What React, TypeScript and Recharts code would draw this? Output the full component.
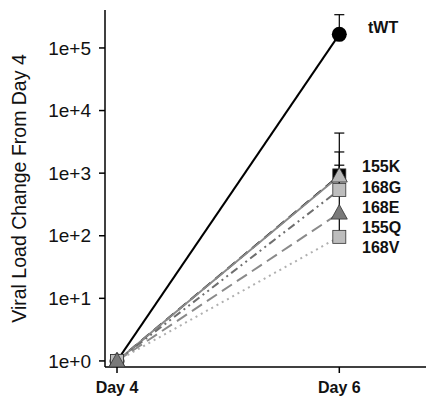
import { ComposedChart, Line, Scatter, XAxis, YAxis, ErrorBar, Label } from "recharts";

// x positions (days) and their tick text
const days = [4, 6];
const dayLabels = ["Day 4", "Day 6"];

// fold change from day 4, per virus
const tWT = [1, 165000];
const k155 = [1, 920];
const q155 = [1, 900];
const g168 = [1, 540];
const e168 = [1, 230];
const v168 = [1, 96];

// error bar ends (absolute values) at day 6
const tWTUp = [null, 340000];
const k155Up = [null, 4370];
const g168Up = [null, 2180];
const e168Up = [null, 1340];
const e168Low = [null, 96];

const yTicks = [1, 10, 100, 1000, 10000, 100000];
const sideLabels = ["155K", "168G", "168E", "155Q", "168V"];

const err = (v: number, up: number | null, low: number | null = null) =>
  up == null ? undefined : [low == null ? 0 : v - low, up - v];

const data = days.map((d, i) => ({
  day: d,
  tWT: tWT[i],
  k155: k155[i],
  q155: q155[i],
  g168: g168[i],
  e168: e168[i],
  v168: v168[i],
  tWTErr: err(tWT[i], tWTUp[i]),
  k155Err: err(k155[i], k155Up[i]),
  g168Err: err(g168[i], g168Up[i]),
  e168Err: err(e168[i], e168Up[i], e168Low[i]),
}));

// caps at the top of each error bar
const caps = [tWTUp, k155Up, g168Up, e168Up].flatMap((arr) =>
  arr.map((u, i) => (u == null ? null : { day: days[i], up: u })).filter(Boolean)
);

const square = (fill: string) => (p: any) =>
  p.cx == null ? null : (
    <rect key={p.key} x={p.cx - 6.5} y={p.cy - 6.5} width={13} height={13} fill={fill} stroke="#333" strokeWidth={0.8} />
  );
const triangle = (fill: string) => (p: any) =>
  p.cx == null ? null : (
    <polygon
      key={p.key}
      points={`${p.cx},${p.cy - 8.5} ${p.cx - 8},${p.cy + 6} ${p.cx + 8},${p.cy + 6}`}
      fill={fill}
      stroke="#333"
      strokeWidth={0.8}
    />
  );
const circle = (p: any) =>
  p.cx == null ? null : <circle key={p.key} cx={p.cx} cy={p.cy} r={7.5} fill="#000" />;
const cap = (p: any) => (
  <line x1={p.cx - 5} x2={p.cx + 5} y1={p.cy} y2={p.cy} stroke="#000" strokeWidth={1.2} />
);

const labelStyle = {
  position: "absolute" as const,
  left: 362,
  fontFamily: "Liberation Sans, Arial, sans-serif",
  fontWeight: 700,
  fontSize: 16,
  lineHeight: "16px",
  color: "#111",
};
const labelTops = [167, 188, 208, 228, 248];

export default function App() {
  return (
    <div style={{ position: "absolute", left: 0, top: 0, width: 426, height: 397, overflow: "hidden", background: "#fff" }}>
      <ComposedChart
        width={426}
        height={397}
        data={data}
        margin={{ top: 10, right: 0, left: 0, bottom: 0 }}
        style={{ fontFamily: "Liberation Sans, Arial, sans-serif" }}
      >
        <XAxis
          dataKey="day"
          type="number"
          domain={[3.892, 6.78]}
          allowDataOverflow
          ticks={days}
          tickFormatter={(v) => dayLabels[days.indexOf(v)]}
          height={30}
          tickSize={6}
          tickMargin={9}
          stroke="#000"
          strokeWidth={1.5}
          tick={{ fill: "#111", fontSize: 16, fontWeight: 700 }}
        />
        <XAxis
          xAxisId="top"
          dataKey="day"
          type="number"
          orientation="top"
          domain={[3.892, 6.78]}
          height={0}
          tick={false}
          tickLine={false}
          stroke="#000"
          strokeWidth={1.5}
        />
        <YAxis
          scale="log"
          domain={[0.8, 404000]}
          allowDataOverflow
          ticks={yTicks}
          tickFormatter={(v) => `1e+${Math.round(Math.log10(v))}`}
          width={105}
          tickSize={6}
          tickMargin={8}
          stroke="#000"
          strokeWidth={1.5}
          tick={{ fill: "#111", fontSize: 19 }}
        >
          <Label
            value="Viral Load Change From Day 4"
            angle={-90}
            position="center"
            dx={-33}
            style={{ fill: "#111", fontSize: 19.5 }}
          />
        </YAxis>
        <Line dataKey="tWT" stroke="#000" strokeWidth={2} dot={circle} isAnimationActive={false}>
          <ErrorBar dataKey="tWTErr" width={0} stroke="#000" strokeWidth={1.2} direction="y" />
        </Line>
        <Line dataKey="k155" stroke="#000" strokeWidth={2} strokeDasharray="10 6" dot={square("#000")} isAnimationActive={false}>
          <ErrorBar dataKey="k155Err" width={0} stroke="#000" strokeWidth={1.2} direction="y" />
        </Line>
        <Line dataKey="q155" stroke="#8a8a8a" strokeWidth={2} dot={triangle("#b8b8b8")} isAnimationActive={false} />
        <Line dataKey="g168" stroke="#6e6e6e" strokeWidth={2} strokeDasharray="8 4 2 4 2 4" dot={square("#bdbdbd")} isAnimationActive={false}>
          <ErrorBar dataKey="g168Err" width={0} stroke="#000" strokeWidth={1.2} direction="y" />
        </Line>
        <Line dataKey="v168" stroke="#b0b0b0" strokeWidth={2} strokeDasharray="2 4" dot={square("#bdbdbd")} isAnimationActive={false} />
        <Line dataKey="e168" stroke="#8a8a8a" strokeWidth={2} strokeDasharray="12 6" dot={triangle("#7a7a7a")} isAnimationActive={false}>
          <ErrorBar dataKey="e168Err" width={0} stroke="#000" strokeWidth={1.2} direction="y" />
        </Line>
        <Scatter data={caps} dataKey="up" shape={cap} isAnimationActive={false} />
      </ComposedChart>
      <div style={{ ...labelStyle, left: 368, top: 20 }}>tWT</div>
      {sideLabels.map((s, i) => (
        <div key={s} style={{ ...labelStyle, top: labelTops[i] - 8 }}>
          {s}
        </div>
      ))}
    </div>
  );
}
